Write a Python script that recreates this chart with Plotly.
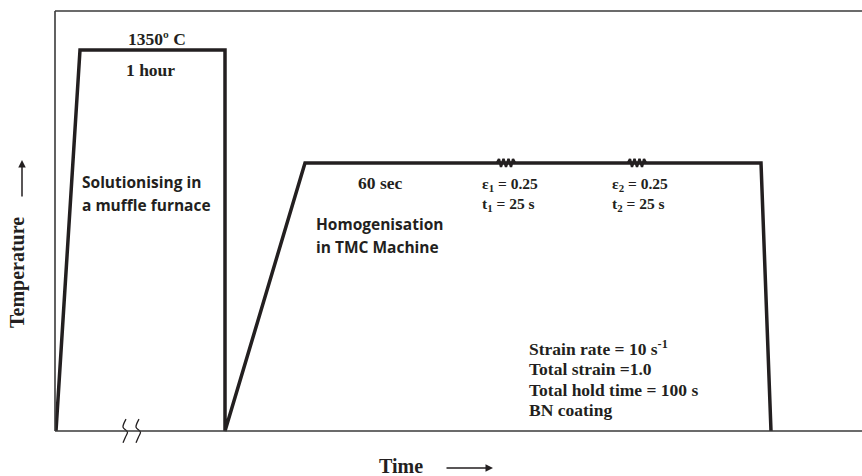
import plotly.graph_objects as go

# ---- data (arbitrary time units, temperature in deg C) ----
profile_time = [1, 25, 170, 170, 250, 706, 716]
profile_temp = [0, 1350, 1350, 0, 950, 950, 0]

spring1_start = 442
spring2_start = 573
spring_dx = [0, 2, 4, 6.5, 9, 11.5, 14, 16, 18]
spring_dy = [0, 14, -14, 14, -14, 14, -14, 14, 0]
hold_temp = 950

break_marks_x = [71, 84]
break_dx = [0, -3, 1.5, -0.5, -3]
break_dy = [42, 14, -4, -21, -42]

# ---- layout helpers (pixel geometry) ----
W, H = 862, 476
L, R, T, B = 55, 862, 11, 431       # frame corners
PB = 446                            # bottom of the plotting area
SCALE = 1350 / 381.0                # deg C per pixel
XMAX = R - L
YMAX = (B - T) * SCALE
YMIN = -(PB - B) * SCALE

def px(x):
    return (x - L) / (R - L)

def py(y):
    return (PB - y) / (PB - T)

fig = go.Figure()

INK = "#231f20"
FRAME = "#3a3a3a"

# frame lines
for x0, y0, x1, y1 in [(L, T, R, T), (L, T, L, B), (L, B, R, B)]:
    fig.add_shape(type="line", xref="paper", yref="paper",
                  x0=px(x0), y0=py(y0), x1=px(x1), y1=py(y1),
                  line=dict(color=FRAME, width=1.6))

fig.add_trace(go.Scatter(x=profile_time, y=profile_temp, mode="lines",
                         line=dict(color=INK, width=3.5), hoverinfo="skip"))

for s in (spring1_start, spring2_start):
    fig.add_trace(go.Scatter(x=[s + d for d in spring_dx],
                             y=[hold_temp + d for d in spring_dy],
                             mode="lines", line=dict(color=INK, width=2.4),
                             hoverinfo="skip"))

for bx in break_marks_x:
    fig.add_trace(go.Scatter(x=[bx + d for d in break_dx], y=break_dy,
                             mode="lines", line=dict(color=INK, width=1.3, shape="spline",
                                                     smoothing=0.8),
                             hoverinfo="skip"))

serif = "Liberation Serif"
sans = "Open Sans"

def ann(text, x, y, family=serif, size=17.5, xanchor="left"):
    fig.add_annotation(text=text, x=px(x), y=py(y), xref="paper", yref="paper",
                       showarrow=False, xanchor=xanchor, yanchor="middle",
                       font=dict(family=family, size=size, color=INK, weight="bold"),
                       align="left")

ann("1350º C", 157, 39, xanchor="center")
ann("1 hour", 150, 70, xanchor="center")
ann("Solutionising in", 80, 182, family=sans, size=15.5)
ann("a muffle furnace", 80, 205, family=sans, size=15.5)
ann("60 sec", 380, 183, xanchor="center")
ann("Homogenisation", 314, 224, family=sans, size=15.5)
ann("in TMC Machine", 314, 247, family=sans, size=15.5)
ann("ε<sub>1</sub> = 0.25", 480, 184, size=15.5)
ann("t<sub>1</sub> = 25 s", 480, 204, size=15.5)
ann("ε<sub>2</sub> = 0.25", 610, 184, size=15.5)
ann("t<sub>2</sub> = 25 s", 610, 204, size=15.5)
ann("Strain rate = 10 s<sup>-1</sup>", 527, 348)
ann("Total strain =1.0", 527, 369)
ann("Total hold time = 100 s", 527, 390)
ann("BN coating", 527, 410)
ann("Time", 401, 466, size=20, xanchor="center")

fig.add_annotation(text="Temperature", x=px(17), y=py(273), xref="paper", yref="paper",
                   showarrow=False, textangle=-90, xanchor="center", yanchor="middle",
                   font=dict(family=serif, size=20, color=INK, weight="bold"))

# axis-style arrows (tail offsets in pixels)
fig.add_annotation(x=px(22), y=py(160), xref="paper", yref="paper", text="",
                   showarrow=True, ax=0, ay=38, axref="pixel", ayref="pixel",
                   arrowhead=2, arrowsize=1, arrowwidth=1.5, arrowcolor=INK)
fig.add_annotation(x=px(493), y=py(468), xref="paper", yref="paper", text="",
                   showarrow=True, ax=-48, ay=0, axref="pixel", ayref="pixel",
                   arrowhead=2, arrowsize=1, arrowwidth=1.5, arrowcolor=INK)

hidden = dict(showline=False, showgrid=False, zeroline=False,
              showticklabels=False, ticks="")

fig.update_xaxes(range=[0, XMAX], **hidden)
fig.update_yaxes(range=[YMIN, YMAX], **hidden)

fig.update_layout(width=W, height=H, showlegend=False,
                  margin=dict(l=L, r=W - R, t=T, b=H - PB),
                  plot_bgcolor="white", paper_bgcolor="white")

fig.write_html("out.html")
